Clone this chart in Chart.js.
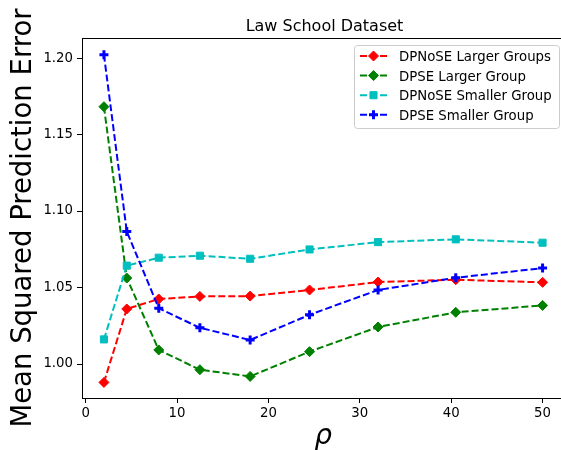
<!DOCTYPE html>
<html>
<head>
<meta charset="utf-8">
<script src="https://cdn.jsdelivr.net/npm/chart.js@4.4.1/dist/chart.umd.min.js"></script>
<style>
  html, body { margin: 0; padding: 0; background: #fff; overflow: hidden; }
  #wrap { width: 572px; height: 450px; }
</style>
</head>
<body>
<div id="wrap"><canvas id="chart" width="572" height="450"></canvas></div>
<script>
/* --- data --- */
const rho = [2, 4.5, 8, 12.5, 18, 24.5, 32, 40.5, 50];
const dpnoseLarger  = [0.988, 1.036, 1.0425, 1.0442, 1.0444, 1.0484, 1.0536, 1.0551, 1.0534];
const dpseLarger    = [1.1682, 1.0562, 1.0092, 0.9963, 0.9919, 1.0081, 1.0242, 1.0338, 1.0383];
const dpnoseSmaller = [1.0161, 1.0643, 1.0695, 1.0708, 1.0688, 1.0749, 1.0797, 1.0815, 1.0793];
const dpseSmaller   = [1.2022, 1.0867, 1.0364, 1.0237, 1.0157, 1.0322, 1.0484, 1.0564, 1.0627];

const seriesLabels = ['DPNoSE Larger Groups', 'DPSE Larger Group', 'DPNoSE Smaller Group', 'DPSE Smaller Group'];
const xTicks = [0, 10, 20, 30, 40, 50];
const yTicks = [1.00, 1.05, 1.10, 1.15, 1.20];
const titleText = 'Law School Dataset';

const FONT = "'DejaVu Sans', sans-serif";

function pts(ys){ return ys.map((y, i) => ({ x: rho[i], y: y })); }

function series(label, ys, color, style, radius, bw, order){
  return {
    label: label,
    data: pts(ys),
    borderColor: color,
    backgroundColor: color,
    borderWidth: 2,
    borderDash: [7, 3],
    pointStyle: style,
    pointRadius: radius,
    pointHoverRadius: radius,
    pointBorderWidth: bw,
    pointBackgroundColor: color,
    pointBorderColor: color,
    tension: 0,
    fill: false,
    order: order
  };
}

/* --- frame, title and legend --- */
const framePlugin = {
  id: 'frame',
  afterDatasetsDraw(chart){
    const { ctx, chartArea: { left, right, top, bottom } } = chart;
    ctx.save();
    ctx.strokeStyle = '#000';
    ctx.lineWidth = 1;
    ctx.strokeRect(Math.round(left) + 0.5, Math.round(top) + 0.5, Math.round(right - left), Math.round(bottom - top));
    ctx.restore();
  }
};

const titlePlugin = {
  id: 'mplTitle',
  afterDraw(chart){
    const ctx = chart.ctx;
    ctx.save();
    ctx.fillStyle = '#000';
    ctx.font = '16px ' + FONT;
    ctx.textAlign = 'center';
    ctx.textBaseline = 'alphabetic';
    ctx.fillText(titleText, 324.5, 31);
    ctx.restore();
  }
};

const legendPlugin = {
  id: 'mplLegend',
  afterDraw(chart){
    const ctx = chart.ctx;
    const x0 = 354.5, y0 = 45.5, w = 205, h = 83;
    ctx.save();
    // box
    ctx.beginPath();
    ctx.roundRect(x0, y0, w, h, 3);
    ctx.fillStyle = 'rgba(255,255,255,0.8)';
    ctx.fill();
    ctx.strokeStyle = '#cccccc';
    ctx.lineWidth = 1;
    ctx.stroke();

    chart.data.datasets.forEach((ds, i) => {
      const cy = 56 + i * 19.6;
      ctx.strokeStyle = ds.borderColor;
      ctx.fillStyle = ds.borderColor;
      ctx.lineWidth = 2;
      ctx.setLineDash(ds.borderDash);
      ctx.beginPath();
      ctx.moveTo(360, cy);
      ctx.lineTo(387, cy);
      ctx.stroke();
      ctx.setLineDash([]);
      ctx.lineWidth = ds.pointBorderWidth;
      Chart.helpers.drawPoint(ctx, {
        pointStyle: ds.pointStyle,
        radius: ds.pointRadius,
        rotation: 0,
        borderWidth: ds.pointBorderWidth
      }, 373.5, cy);
      ctx.fillStyle = '#000';
      ctx.font = '13.3px ' + FONT;
      ctx.textAlign = 'left';
      ctx.textBaseline = 'alphabetic';
      ctx.fillText(ds.label, 399, cy + 5);
    });
    ctx.restore();
  }
};

const chart = new Chart(document.getElementById('chart'), {
  type: 'line',
  data: {
    datasets: [
      series(seriesLabels[0], dpnoseLarger,  '#ff0000', 'rectRot', 5, 1, 4),
      series(seriesLabels[1], dpseLarger,    '#008000', 'rectRot', 5, 1, 3),
      series(seriesLabels[2], dpnoseSmaller, '#00bfbf', 'rect',    5, 1, 2),
      series(seriesLabels[3], dpseSmaller,   '#0000ff', 'cross',   4.5, 3, 1)
    ]
  },
  options: {
    responsive: false,
    animation: false,
    devicePixelRatio: 1,
    layout: { padding: { top: 38, right: 6, left: 0, bottom: 0 } },
    plugins: {
      legend: { display: false },
      tooltip: { enabled: false },
      title: { display: false }
    },
    scales: {
      x: {
        type: 'linear',
        min: -0.4,
        max: 52.4,
        afterFit: s => { s.height = 52; },
        afterBuildTicks: s => { s.ticks = xTicks.map(v => ({ value: v })); },
        ticks: {
          color: '#000',
          font: { family: FONT, size: 13.3 },
          padding: 3,
          maxRotation: 0,
          callback: v => String(v)
        },
        grid: { display: true, drawOnChartArea: false, tickLength: 5, color: '#000', lineWidth: 1 },
        border: { display: false },
        title: {
          display: true,
          text: 'ρ',
          color: '#000',
          font: { family: FONT, size: 27.5, style: 'italic', lineHeight: 1 },
          padding: { top: 0, bottom: -1 }
        }
      },
      y: {
        type: 'linear',
        min: 0.9778,
        max: 1.2131,
        afterFit: s => { s.width = 82; },
        afterBuildTicks: s => { s.ticks = yTicks.map(v => ({ value: v })); },
        ticks: {
          color: '#000',
          font: { family: FONT, size: 13.3 },
          padding: 4,
          callback: v => Number(v).toFixed(2)
        },
        grid: { display: true, drawOnChartArea: false, tickLength: 5, color: '#000', lineWidth: 1 },
        border: { display: false },
        title: {
          display: true,
          text: 'Mean Squared Prediction Error',
          color: '#000',
          font: { family: FONT, size: 27.5, lineHeight: 1 },
          padding: { top: 10, bottom: 0 }
        }
      }
    }
  },
  plugins: [framePlugin, titlePlugin, legendPlugin]
});
</script>
</body>
</html>
